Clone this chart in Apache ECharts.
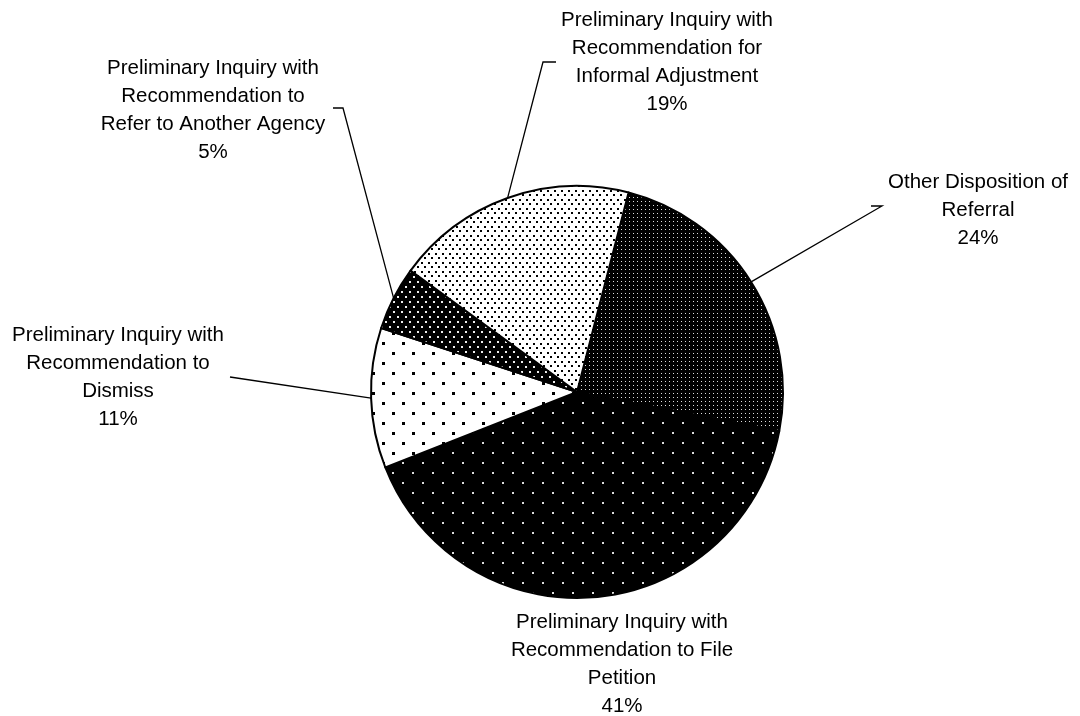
<!DOCTYPE html>
<html>
<head>
<meta charset="utf-8">
<script src="https://cdn.jsdelivr.net/npm/echarts@6/dist/echarts.min.js"></script>
<style>
  html, body { margin: 0; padding: 0; background: #fff; }
  #main { width: 1080px; height: 716px; }
</style>
</head>
<body>
<div id="main"></div>
<script>
let categories = [
  'Other Disposition of\nReferral',
  'Preliminary Inquiry with\nRecommendation to File\nPetition',
  'Preliminary Inquiry with\nRecommendation to\nDismiss',
  'Preliminary Inquiry with\nRecommendation to\nRefer to Another Agency',
  'Preliminary Inquiry with\nRecommendation for\nInformal Adjustment'
];
let percents = [24, 41, 11, 5, 19];

// where each label block sits (centre x, top y) and the elbow of its leader line
let labelSpots = [
  { x: 978, y: 168, line: [[882, 206], [871, 206]] },
  { x: 622, y: 608, line: null },
  { x: 118, y: 321, line: [[230, 377]] },
  { x: 213, y: 54, line: [[343, 108], [333, 108]] },
  { x: 667, y: 6, line: [[543, 62], [556, 62]] }
];

// dotted fills, like the old printer hatching
function dots(w, h, bg, fg, pts, size) {
  let c = document.createElement('canvas');
  c.width = w;
  c.height = h;
  let ctx = c.getContext('2d');
  ctx.fillStyle = bg;
  ctx.fillRect(0, 0, w, h);
  ctx.fillStyle = fg;
  pts.forEach(function (p) {
    ctx.fillRect(p[0], p[1], size, size);
  });
  return { image: c, repeat: 'repeat' };
}

let fills = [
  dots(4, 4, '#000', '#ddd', [[1, 1]], 1),
  dots(20, 20, '#000', '#ddd', [[2, 2], [12, 12]], 2),
  dots(20, 20, '#fff', '#000', [[2, 2], [12, 12]], 3),
  dots(8, 10, '#000', '#eee', [[1, 1], [5, 6]], 2),
  dots(7, 9, '#fff', '#000', [[1, 1], [4, 5]], 2)
];

let myChart = echarts.init(document.getElementById('main'));
let option;

option = {
  backgroundColor: '#fff',
  animation: false,
  series: [{
    type: 'pie',
    center: [577, 392],
    radius: 206,
    startAngle: 75.5,
    clockwise: true,
    avoidLabelOverlap: false,
    data: categories.map(function (name, i) {
      return {
        name: name,
        value: percents[i],
        itemStyle: { color: fills[i] },
        labelLine: { show: !!labelSpots[i].line }
      };
    }),
    itemStyle: {
      borderColor: '#000',
      borderWidth: 2
    },
    label: {
      show: true,
      position: 'outside',
      formatter: function (p) {
        return p.name + '\n' + p.value + '%';
      },
      color: '#000',
      fontFamily: '"Liberation Sans", Arial, sans-serif',
      fontSize: 20.5,
      lineHeight: 28,
      align: 'center'
    },
    labelLine: {
      show: true,
      length: 10,
      length2: 10,
      lineStyle: { color: '#000', width: 1.3 }
    },
    labelLayout: function (params) {
      let spot = labelSpots[params.dataIndex];
      let res = {
        x: spot.x,
        y: spot.y,
        align: 'center',
        verticalAlign: 'top'
      };
      if (spot.line && params.labelLinePoints) {
        res.labelLinePoints = [params.labelLinePoints[0]].concat(spot.line);
      }
      return res;
    }
  }]
};

option && myChart.setOption(option);
</script>
</body>
</html>
